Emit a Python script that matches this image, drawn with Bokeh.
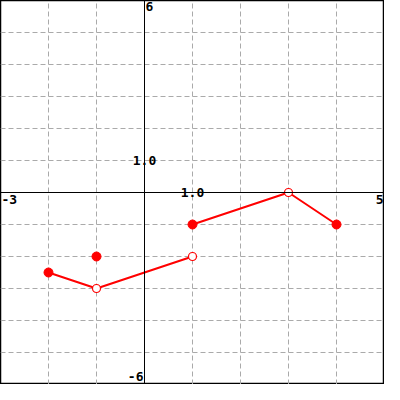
from bokeh.plotting import figure
from bokeh.models import Span, FixedTicker, Grid
from bokeh.core.properties import value
from bokeh.embed import file_html
from bokeh.resources import INLINE

# data
seg1_x = [-2, -1, 1]
seg1_y = [-2.5, -3, -2]
seg2_x = [1, 3, 4]
seg2_y = [-1, 0, -1]
filled_x = [-2, -1, 1, 4]
filled_y = [-2.5, -2, -1, -1]
open_x = [-1, 1, 3]
open_y = [-3, -2, 0]
grid_x = [-2, -1, 1, 2, 3, 4]
grid_y = [-5, -4, -3, -2, -1, 1, 2, 3, 4, 5]

p = figure(width=384, height=384, x_range=(-3, 5), y_range=(-6, 6),
           output_backend="svg", toolbar_location=None,
           x_axis_type=None, y_axis_type=None, min_border=0)
p.outline_line_color = "black"
p.outline_line_width = 1.5
p.background_fill_color = "white"
p.border_fill_color = "white"

for dim, ticks in ((0, grid_x), (1, grid_y)):
    g = Grid(dimension=dim, ticker=FixedTicker(ticks=ticks),
             grid_line_color="#aaaaaa", grid_line_dash="5 3", grid_line_width=1)
    p.add_layout(g)

p.add_layout(Span(location=0, dimension="width", line_color="black", line_width=1))
p.add_layout(Span(location=0, dimension="height", line_color="black", line_width=1))

red = "#ff0000"
p.line(seg1_x, seg1_y, line_color=red, line_width=2)
p.line(seg2_x, seg2_y, line_color=red, line_width=2)
p.scatter(filled_x, filled_y, size=9, fill_color=red, line_color=red)
p.scatter(open_x, open_y, size=8, fill_color="white", line_color=red, line_width=1.2)

font = value("DejaVu Sans Mono")
common = dict(text_font=font, text_font_size="13px", text_font_style="bold", text_color="black")
p.text(x=[0], y=[6], text=["6"], text_align="left", text_baseline="top", x_offset=1, y_offset=1, **common)
p.text(x=[0], y=[-6], text=["-6"], text_align="right", text_baseline="bottom", x_offset=-1, y_offset=-4, **common)
p.text(x=[-3], y=[0], text=["-3"], text_align="left", text_baseline="top", x_offset=1, y_offset=2, **common)
p.text(x=[5], y=[0], text=["5"], text_align="right", text_baseline="top", x_offset=-1, y_offset=2, **common)
p.text(x=[0], y=[1], text=["1.0"], text_align="center", text_baseline="middle", **common)
p.text(x=[1], y=[0], text=["1.0"], text_align="center", text_baseline="middle", **common)

open("out.html", "w").write(file_html(p, INLINE))
